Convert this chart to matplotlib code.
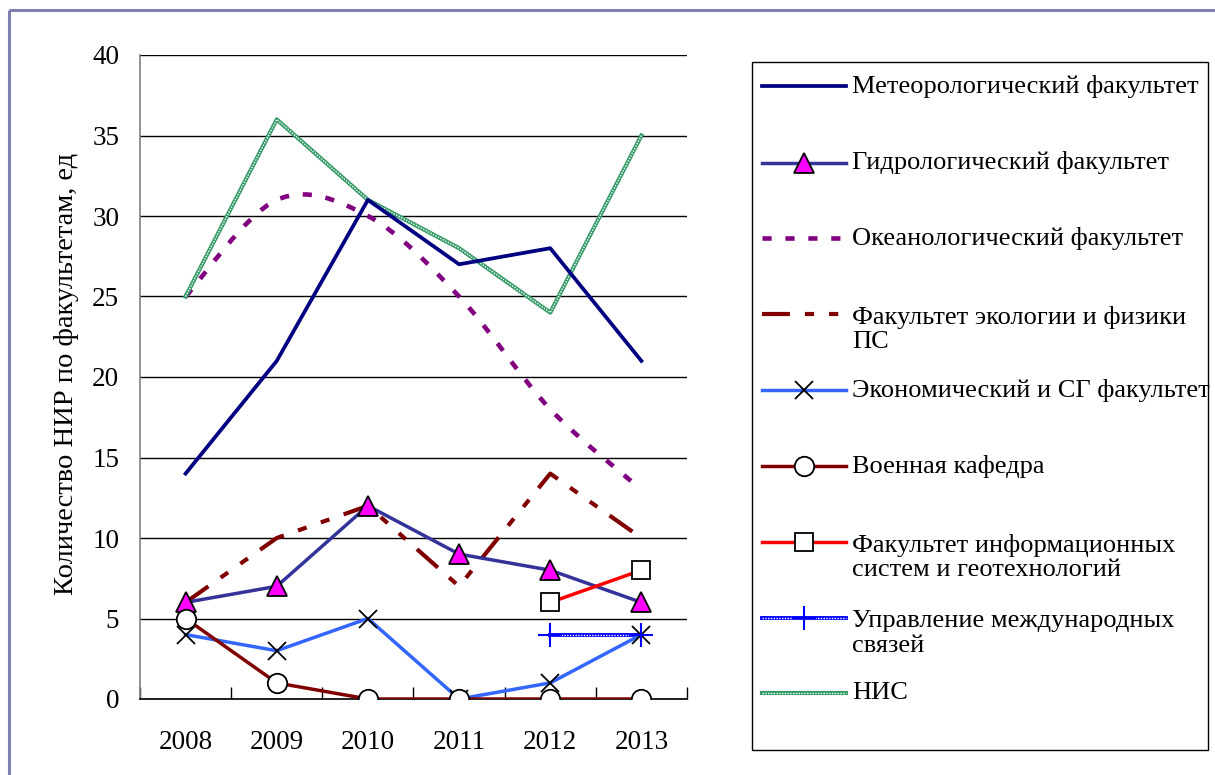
import matplotlib.pyplot as plt
import numpy as np
from matplotlib.path import Path
from matplotlib.patches import PathPatch, Rectangle
from matplotlib.lines import Line2D

plt.rcParams['font.family'] = ['Liberation Serif', 'DejaVu Serif']

# данные
years = ['2008', '2009', '2010', '2011', '2012', '2013']
meteo = [14, 21, 31, 27, 28, 21]
hydro = [6, 7, 12, 9, 8, 6]
ocean = [25, 31, 30, 25, 18, 13]
ecology = [6, 10, 12, 7, 14, 10]
econ = [4, 3, 5, 0, 1, 4]
military = [5, 1, 0, 0, 0, 0]
infosys = [np.nan, np.nan, np.nan, np.nan, 6, 8]
intl = [np.nan, np.nan, np.nan, np.nan, 4, 4]
nis = [25, 36, 31, 28, 24, 35]

labels = ['Метеорологический факультет',
          'Гидрологический факультет',
          'Океанологический факультет',
          'Факультет экологии и физики\nПС',
          'Экономический и СГ факультет',
          'Военная кафедра',
          'Факультет информационных\nсистем и геотехнологий',
          'Управление международных\nсвязей',
          'НИС']

# стили линий
st_meteo = dict(color='#000080', lw=2.7)
st_hydro = dict(color='#333399', lw=2.5, marker='^', ms=14, mfc='#FF00FF', mec='black', mew=1.3)
st_ocean = dict(color='#800080', lw=3.3, ls=(0, (2, 3)))
st_ecol = dict(color='#800000', lw=3.0, ls=(0, (6.7, 3.6, 2.2, 3.6, 2.2, 3.6)))
st_econ = dict(color='#3366FF', lw=2.5, marker='x', ms=13, mec='black', mew=1.3)
st_mil = dict(color='#800000', lw=2.5, marker='o', ms=14, mfc='white', mec='black', mew=1.3)
st_info = dict(color='#FF0000', lw=2.5, marker='s', ms=13, mfc='white', mec='black', mew=1.3)
st_intl = dict(color='#0000FF', lw=2.8, marker='+', ms=17, mew=1.5)
st_nis = dict(color='#339966', lw=3.0)
overlay = dict(color='white', lw=1.0, ls=(0, (1, 1)))


def smooth_path(xs, ys):
    # сглаженная линия (как в Excel)
    pts = np.column_stack([xs, ys]).astype(float)
    n = len(pts)
    verts = [pts[0]]
    codes = [Path.MOVETO]
    for i in range(n - 1):
        p0 = pts[max(i - 1, 0)]
        p1 = pts[i]
        p2 = pts[i + 1]
        p3 = pts[min(i + 2, n - 1)]
        verts += [p1 + (p2 - p0) / 6, p2 - (p3 - p1) / 6, p2]
        codes += [Path.CURVE4] * 3
    return Path(verts, codes)


W, H = 1215, 775
fig = plt.figure(figsize=(W / 100, H / 100), dpi=100)

# рамка и легенда в пиксельных координатах
lax = fig.add_axes([0, 0, 1, 1])
lax.set_xlim(0, W)
lax.set_ylim(H, 0)
lax.axis('off')
lax.add_patch(Rectangle((9, 10), 1400, 1000, fill=False, edgecolor='#8080B0', lw=2.2))
lax.add_patch(Rectangle((752, 62), 456, 688, facecolor='white', edgecolor='black', lw=1.0))

ax = fig.add_axes([140 / W, 1 - 699 / H, 547 / W, 644 / H])
x = np.arange(len(years))

ax.plot(x, meteo, **st_meteo, zorder=4)
ax.plot(x, hydro, **st_hydro, zorder=5)
ax.add_patch(PathPatch(smooth_path(x, ocean), fill=False, edgecolor=st_ocean['color'],
                       lw=st_ocean['lw'], ls=st_ocean['ls'], capstyle='butt', zorder=3))
ax.plot(x, ecology, **st_ecol, zorder=3)
ax.plot(x, econ, **st_econ, zorder=5)
ax.plot(x, military, **st_mil, zorder=5)
ax.plot(x, infosys, **st_info, zorder=5)
ax.plot(x, intl, **{k: v for k, v in st_intl.items() if k not in ('marker', 'ms', 'mew')}, zorder=4)
ax.plot(x, intl, **overlay, zorder=4)
ax.plot(x, intl, ls='none', marker='+', ms=st_intl['ms'], mew=st_intl['mew'], color=st_intl['color'], zorder=6)
ax.plot(x, nis, **st_nis, zorder=3)
ax.plot(x, nis, **overlay, zorder=3)

ax.set_xlim(-0.5, len(years) - 0.5)
ax.set_ylim(0, 40)
ax.set_yticks(range(0, 41, 5))
ax.set_xticks(x)
ax.set_xticklabels(years)
ax.set_xticks(np.arange(-0.5, len(years)), minor=True)
ax.tick_params(axis='x', which='major', length=0, pad=22, labelsize=19.5)
ax.tick_params(axis='x', which='minor', direction='in', length=9, width=1)
ax.tick_params(axis='y', length=0, pad=15, labelsize=19.5)
ax.grid(axis='y', color='black', lw=1.0)
ax.set_axisbelow(True)
for s in ['top', 'right']:
    ax.spines[s].set_visible(False)
ax.spines['left'].set_color('#808080')
ax.spines['left'].set_linewidth(1.2)
ax.spines['bottom'].set_linewidth(1.2)
ax.set_ylabel('Количество НИР по факультетам, ед', fontsize=20.5, va='center')
ax.yaxis.set_label_coords(-0.135, 0.505)

# легенда
legend_styles = [st_meteo, st_hydro, st_ocean, st_ecol, st_econ, st_mil, st_info, st_intl, st_nis]
legend_y = [86, 163, 238, 314, 390, 466, 542, 618, 693]
for lab, st, yy in zip(labels, legend_styles, legend_y):
    hx = [762, 804, 846]
    if st is st_nis or st is st_intl:
        base = {k: v for k, v in st.items() if k not in ('marker', 'ms', 'mew')}
        lax.add_line(Line2D(hx, [yy] * 3, **base))
        lax.add_line(Line2D(hx, [yy] * 3, **overlay))
        if 'marker' in st:
            lax.add_line(Line2D([804], [yy], ls='none', marker='+', ms=st['ms'], mew=st['mew'], color=st['color']))
    else:
        lax.add_line(Line2D(hx, [yy] * 3, markevery=[1], **st))
    nlines = lab.count('\n') + 1
    lax.text(852, yy + (nlines - 1) * 15.5, lab, fontsize=19, va='center', ha='left',
             linespacing=1.15)

fig.savefig('out.png', dpi=100)
